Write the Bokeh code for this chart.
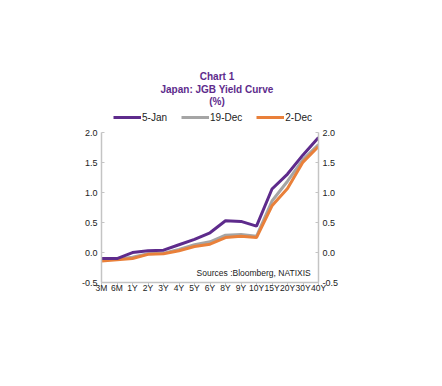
from bokeh.plotting import figure
from bokeh.models import (Range1d, LinearAxis, FixedTicker, Label, Legend, LegendItem,
                          CustomJSTickFormatter)
from bokeh.embed import file_html
from bokeh.resources import INLINE

tenors = ["3M", "6M", "1Y", "2Y", "3Y", "4Y", "5Y", "6Y", "8Y", "9Y", "10Y", "15Y", "20Y", "30Y", "40Y"]
jan5 = [-0.10, -0.10, 0.00, 0.03, 0.04, 0.13, 0.22, 0.33, 0.53, 0.52, 0.44, 1.06, 1.31, 1.63, 1.92]
dec19 = [-0.12, -0.11, -0.08, -0.02, -0.01, 0.05, 0.13, 0.18, 0.29, 0.30, 0.27, 0.86, 1.19, 1.55, 1.80]
dec2 = [-0.14, -0.12, -0.10, -0.03, -0.02, 0.03, 0.10, 0.14, 0.25, 0.27, 0.25, 0.78, 1.07, 1.51, 1.77]
yticks = [-0.5, 0.0, 0.5, 1.0, 1.5, 2.0]
title_lines = ["Chart 1", "Japan: JGB Yield Curve", "(%)"]
source_text = "Sources :Bloomberg, NATIXIS"

xs = list(range(len(tenors)))

PURPLE = "#5E2B8C"
GREY = "#A5A5A5"
ORANGE = "#E9803A"
AXC = "#C4C4C4"
FONT = "Liberation Sans"

p = figure(width=370, height=312, output_backend="svg", toolbar_location=None,
           x_range=Range1d(0, 14), y_range=Range1d(-0.5, 3.105),
           min_border_left=101, min_border_right=52, min_border_top=66, min_border_bottom=30,
           x_axis_location=None, y_axis_location=None)
p.outline_line_color = None
p.xgrid.visible = False
p.ygrid.visible = False
p.background_fill_color = "white"
p.border_fill_color = "white"

def style_axis(ax, size="9px"):
    ax.axis_line_color = AXC
    ax.axis_line_width = 1.5
    ax.major_tick_line_color = AXC
    ax.major_tick_in = 3
    ax.major_tick_out = 0
    ax.minor_tick_line_color = None
    ax.major_label_text_font = FONT
    ax.major_label_text_font_size = size
    ax.major_label_text_color = "#222222"

for side in ("left", "right"):
    ax = LinearAxis(ticker=FixedTicker(ticks=yticks), bounds=(-0.5, 2.0))
    ax.formatter = CustomJSTickFormatter(code="return tick.toFixed(1);")
    style_axis(ax)
    ax.major_label_standoff = 4
    p.add_layout(ax, side)

xax = LinearAxis(ticker=FixedTicker(ticks=xs))
xax.major_label_overrides = {i: t for i, t in enumerate(tenors)}
style_axis(xax, "8.5px")
xax.major_tick_in = 0
xax.major_tick_out = 3
xax.major_label_standoff = -3
p.add_layout(xax, "below")

r_grey = p.line(xs, dec19, line_color=GREY, line_width=3)
r_orange = p.line(xs, dec2, line_color=ORANGE, line_width=3)
r_purple = p.line(xs, jan5, line_color=PURPLE, line_width=3)

legend = Legend(items=[LegendItem(label="5-Jan", renderers=[r_purple]),
                       LegendItem(label="19-Dec", renderers=[r_grey]),
                       LegendItem(label="2-Dec", renderers=[r_orange])],
                orientation="horizontal", location=(12, 159),
                glyph_width=28, glyph_height=12, label_standoff=1, spacing=14,
                padding=0, margin=0, border_line_color=None, background_fill_alpha=0,
                label_text_font=FONT, label_text_font_size="10px", label_text_color="#222222")
p.add_layout(legend, "center")

ys_title = [2.94, 2.725, 2.52]
for txt, yv in zip(title_lines, ys_title):
    p.add_layout(Label(x=7.45, y=yv, text=txt, text_align="center", text_baseline="middle",
                       text_font=FONT, text_font_size="10px", text_font_style="bold",
                       text_color=PURPLE))

p.add_layout(Label(x=13.5, y=-0.345, text=source_text, text_align="right", text_baseline="middle",
                   text_font=FONT, text_font_size="8.5px", text_color="#222222"))

open("out.html", "w").write(file_html(p, INLINE))
